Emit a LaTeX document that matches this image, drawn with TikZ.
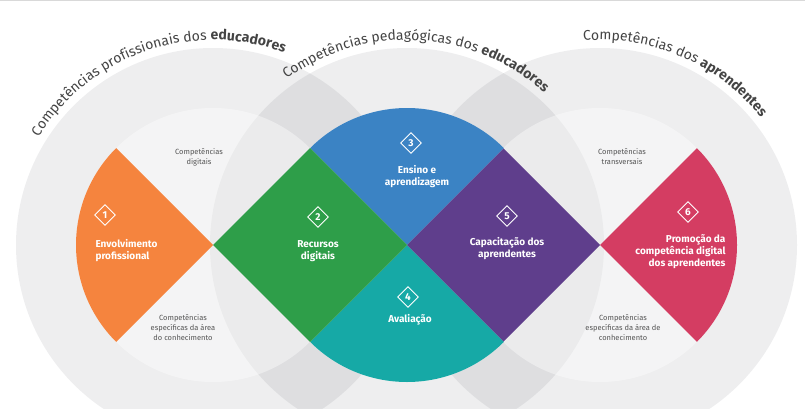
\documentclass[tikz,border=0pt]{standalone}
\usepackage{fontspec}
\setmainfont{Fira Sans}
\usetikzlibrary{decorations.text,shapes.geometric}
\definecolor{corange}{HTML}{F5843E}
\definecolor{cgreen}{HTML}{2E9E49}
\definecolor{cblue}{HTML}{3B83C4}
\definecolor{cteal}{HTML}{16A9A6}
\definecolor{cpurple}{HTML}{5F3E8C}
\definecolor{cred}{HTML}{D43D62}
\definecolor{ctext}{HTML}{444444}
\definecolor{cgraytext}{HTML}{555555}
\definecolor{cshade}{HTML}{3A3F4A}
\begin{document}
\begin{tikzpicture}[x=1pt,y=1pt,
  outer/.style={fill=cshade, fill opacity=0.085},
  inner/.style={fill=white, fill opacity=0.4},
  lab/.style={text=white, font=\fontsize{10}{12}\selectfont\bfseries, align=center},
  small/.style={text=cgraytext, font=\fontsize{7.5}{10}\selectfont, align=center},
  num/.style={draw=white, line width=0.9pt, diamond, inner sep=1.3pt, minimum size=21pt, text=white, font=\fontsize{10}{12}\selectfont\bfseries},
  arctext/.style={decorate, decoration={text along path, text align=center, text color=ctext}},
]
\useasboundingbox (0,0) rectangle (805,408);
\fill[white] (0,0) rectangle (805,408);
\draw[gray!30, line width=1pt] (0,407.5) -- (805,407.5);
% outer circles
\foreach \c in {213,407,600} \fill[outer] (\c,163) circle[radius=197];
\foreach \c in {213,407,600} \fill[inner] (\c,163) circle[radius=137];
% shapes
\fill[corange] (213,163) -- ++(135:137) arc[start angle=135,end angle=225,radius=137] -- cycle;
\fill[cblue] (407,163) -- ++(45:137) arc[start angle=45,end angle=135,radius=137] -- cycle;
\fill[cteal] (407,163) -- ++(225:137) arc[start angle=225,end angle=315,radius=137] -- cycle;
\fill[cred] (600,163) -- ++(-45:137) arc[start angle=-45,end angle=45,radius=137] -- cycle;
\fill[cgreen] (213,163) -- (310,260) -- (407,163) -- (310,66) -- cycle;
\fill[cpurple] (407,163) -- (503.5,259.5) -- (600,163) -- (503.5,66.5) -- cycle;
% arc texts
\path[arctext, decoration={text={|\fontsize{14}{16}\selectfont|Competências profissionais dos |\fontsize{14}{16}\selectfont\bfseries|educadores}}]
  (213,163) ++(153:205) arc[start angle=153,end angle=65,radius=205];
\path[arctext, decoration={text={|\fontsize{14}{16}\selectfont|Competências pedagógicas dos |\fontsize{14}{16}\selectfont\bfseries|educadores}}]
  (407,163) ++(130:205) arc[start angle=130,end angle=44,radius=205];
\path[arctext, decoration={text={|\fontsize{14}{16}\selectfont|Competências dos |\fontsize{14}{16}\selectfont\bfseries|aprendentes}}]
  (600,163) ++(100:205) arc[start angle=100,end angle=33,radius=205];
% numbers
\node[num] (n1) at (105,193) {1};
\node[num] (n2) at (318,191) {2};
\node[num] (n3) at (411,265) {3};
\node[num] (n4) at (408,111) {4};
\node[num] (n5) at (507,192) {5};
\node[num] (n6) at (688,196) {6};
% labels
\node[lab, align=left, anchor=west] (l1) at (92,157) {Envolvimento\\profissional};
\node[lab] (l2) at (318,157) {Recursos\\digitais};
\node[lab] (l3) at (417,231) {Ensino e\\aprendizagem};
\node[lab] (l4) at (410,88) {Avaliação};
\node[lab] (l5) at (507,159) {Capacitação dos\\aprendentes};
\node[lab, align=right, anchor=east] (l6) at (729,156) {Promoção da\\competência digital\\dos aprendentes};
% small labels
\node[small] (s1) at (199,251) {Competências\\digitais};
\node[small] (s2) at (183,80) {Competências\\específicas da área\\do conhecimento};
\node[small] (s3) at (622,251) {Competências\\transversais};
\node[small] (s4) at (623,80) {Competências\\específicas da área de\\conhecimento};
\end{tikzpicture}
\end{document}
